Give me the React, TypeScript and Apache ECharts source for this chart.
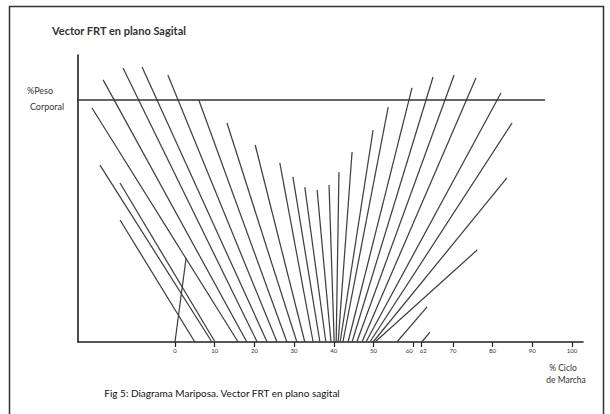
import React, { useEffect, useRef } from 'react';
import * as echarts from 'echarts';

// Butterfly diagram: each vector starts on the x axis (baseX, 0) and ends at (topX, topY)
const baseX = [0, 5.0, 9.3, 10.1, 15.9, 18.1, 20.7, 23.2, 25.7, 28.2, 30.7, 32.7, 34.8, 36.5, 38.0, 39.3,
  40.1, 40.6, 41.1, 41.6, 42.3, 43.6, 44.6, 45.8, 47.1, 48.1, 49.1, 49.9, 50.4, 55.9, 62.2];
const topX = [2.8, -13.85, -18.9, -13.85, -20.9, -18.1, -13.1, -8.3, -1.8, 6.0, 13.1, 20.2, 26.4, 29.7, 32.7, 35.8,
  38.8, 41.3, 44.6, 49.9, 53.7, 59.7, 65.0, 70.3, 75.8, 82.1, 84.9, 83.6, 76.1, 63.5, 64.2];
const topY = [34.7, 50.4, 73.1, 65.7, 96.7, 108.3, 113.2, 113.6, 110.3, 100, 90.5, 81.4, 74.0, 68.2, 64.0, 62.8,
  64.9, 70.2, 78.5, 87.6, 97.1, 105.0, 109.5, 110.3, 109.1, 102.9, 90.5, 67.8, 38.0, 14.5, 4.1];

const tickValues = [0, 10, 20, 30, 40, 50, 60, 62, 70, 80, 90, 100];
const tickLabels = ['0', '10', '20', '30', '40', '50', '60', '62', '70', '80', '90', '100'];

const refLineX = [-25.9, 93.2];
const refLineY = 100; // 100 % peso corporal

const X_MIN = -24.43;
const X_MAX = 102.77;
const Y_MIN = 0;
const Y_MAX = 118.6;

export default function App() {
  const ref = useRef<HTMLDivElement>(null);
  useEffect(() => {
    if (!ref.current) return;
    const chart = echarts.init(ref.current, null, { renderer: 'svg' });
    const font = 'Lato, "Open Sans", sans-serif';
    chart.setOption({
      animation: false,
      backgroundColor: '#ffffff',
      grid: { left: 78, right: 27, top: 55, bottom: 72 },
      xAxis: {
        type: 'value',
        min: X_MIN,
        max: X_MAX,
        splitLine: { show: false },
        axisLine: { show: true, onZero: false, lineStyle: { color: '#222', width: 1.6 } },
        axisTick: { show: true, customValues: tickValues, length: 5, lineStyle: { color: '#222', width: 1.2 } },
        axisLabel: {
          customValues: tickValues,
          fontSize: 6,
          fontFamily: font,
          color: '#333',
          margin: 5,
          formatter: (v: number) => {
            const i = tickValues.indexOf(v);
            const t = i >= 0 ? tickLabels[i] : '';
            if (v === 60) return '{l|' + t + '}';
            if (v === 62) return '{r|' + t + '}';
            return t;
          },
          rich: {
            l: { fontSize: 6, fontFamily: font, color: '#333', padding: [0, 8, 0, 0] },
            r: { fontSize: 6, fontFamily: font, color: '#333', padding: [0, 0, 0, 4] },
          },
        },
      },
      yAxis: {
        type: 'value',
        min: Y_MIN,
        max: Y_MAX,
        splitLine: { show: false },
        axisLine: { show: true, onZero: false, lineStyle: { color: '#222', width: 1.6 } },
        axisTick: { show: false },
        axisLabel: { show: false },
      },
      series: [
        {
          type: 'lines',
          coordinateSystem: 'cartesian2d',
          silent: true,
          clip: false,
          lineStyle: { color: '#404040', width: 1.25, opacity: 1 },
          data: baseX.map((b, i) => ({ coords: [[b, 0], [topX[i], topY[i]]] })),
        },
        {
          type: 'line',
          symbol: 'none',
          silent: true,
          clip: false,
          lineStyle: { color: '#333', width: 1.6 },
          data: [[refLineX[0], refLineY], [refLineX[1], refLineY]],
        },
      ],
      graphic: [
        {
          type: 'rect',
          shape: { x: 9.5, y: 6.5, width: 594, height: 430 },
          style: { fill: 'none', stroke: '#333', lineWidth: 1.5 },
          silent: true,
        },
        {
          type: 'text', x: 52, y: 30,
          style: { text: 'Vector FRT en plano Sagital', fontSize: 11, fontWeight: 'bold', fontFamily: font, fill: '#333', verticalAlign: 'middle' },
        },
        {
          type: 'text', x: 40, y: 90,
          style: { text: '%Peso', fontSize: 9, fontFamily: font, fill: '#333', align: 'center', verticalAlign: 'middle' },
        },
        {
          type: 'text', x: 47, y: 106,
          style: { text: 'Corporal', fontSize: 9, fontFamily: font, fill: '#333', align: 'center', verticalAlign: 'middle' },
        },
        {
          type: 'text', x: 563, y: 368,
          style: { text: '% Ciclo', fontSize: 8.5, fontFamily: font, fill: '#333', align: 'center', verticalAlign: 'middle' },
        },
        {
          type: 'text', x: 566, y: 380,
          style: { text: 'de Marcha', fontSize: 8.5, fontFamily: font, fill: '#333', align: 'center', verticalAlign: 'middle' },
        },
        {
          type: 'text', x: 222, y: 393,
          style: { text: 'Fig 5: Diagrama Mariposa. Vector FRT en plano sagital', fontSize: 10, fontFamily: font, fill: '#111', align: 'center', verticalAlign: 'middle' },
        },
      ],
    });
    return () => chart.dispose();
  }, []);
  return <div ref={ref} style={{ position: 'absolute', left: 0, top: 0, width: 610, height: 414 }} />;
}
